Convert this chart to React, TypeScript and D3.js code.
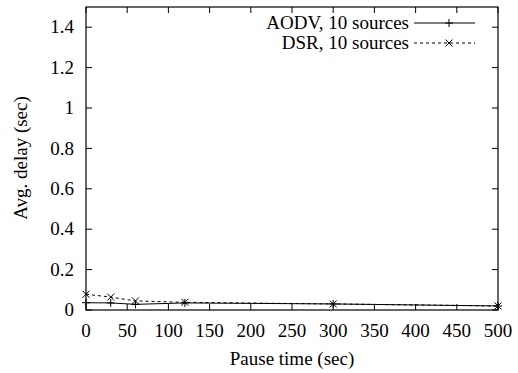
import React from "react";
import * as d3 from "d3";

const pauseTimes = [0, 30, 60, 120, 300, 500];
const aodvDelay = [0.036, 0.035, 0.028, 0.035, 0.03, 0.02];
const dsrDelay = [0.078, 0.064, 0.045, 0.038, 0.03, 0.02];
const xTicks = [0, 50, 100, 150, 200, 250, 300, 350, 400, 450, 500];
const yTicks = [0, 0.2, 0.4, 0.6, 0.8, 1, 1.2, 1.4];
const seriesNames = ["AODV, 10 sources", "DSR, 10 sources"];

const W = 518, H = 373;
const L = 86, R = 498, T = 7, B = 310;
const FONT = "Liberation Serif";

export default function App() {
  const x = d3.scaleLinear().domain([0, 500]).range([L, R]);
  const y = d3.scaleLinear().domain([0, 1.5]).range([B, T]);
  const line = d3.line<number>().x((_, i) => x(pauseTimes[i])).y((d) => y(d));
  const tl = 6;
  const plus = (cx: number, cy: number, k: string) => (
    <g key={k} stroke="#000" strokeWidth={1}>
      <line x1={cx - 4} x2={cx + 4} y1={cy} y2={cy} />
      <line x1={cx} x2={cx} y1={cy - 4} y2={cy + 4} />
    </g>
  );
  const cross = (cx: number, cy: number, k: string) => (
    <g key={k} stroke="#000" strokeWidth={1}>
      <line x1={cx - 3.5} x2={cx + 3.5} y1={cy - 3.5} y2={cy + 3.5} />
      <line x1={cx - 3.5} x2={cx + 3.5} y1={cy + 3.5} y2={cy - 3.5} />
    </g>
  );
  return (
    <svg width={W} height={H} style={{ position: "absolute", left: 0, top: 0, background: "#fff", fontFamily: FONT, fontSize: 19 }}>
      <rect x={0} y={0} width={W} height={H} fill="#fff" />
      {xTicks.map((t) => (
        <g key={"x" + t} stroke="#000">
          <line x1={x(t)} x2={x(t)} y1={B} y2={B - tl} />
          <line x1={x(t)} x2={x(t)} y1={T} y2={T + tl} />
        </g>
      ))}
      {yTicks.map((t) => (
        <g key={"y" + t} stroke="#000">
          <line x1={L} x2={L + tl} y1={y(t)} y2={y(t)} />
          <line x1={R} x2={R - tl} y1={y(t)} y2={y(t)} />
        </g>
      ))}
      {xTicks.map((t) => (
        <text key={"xl" + t} x={x(t)} y={337} textAnchor="middle">{t}</text>
      ))}
      {yTicks.map((t) => (
        <text key={"yl" + t} x={74} y={y(t)} dy="0.33em" textAnchor="end">{String(t)}</text>
      ))}
      <text x={(L + R) / 2} y={365} textAnchor="middle">Pause time (sec)</text>
      <text transform={`translate(27,158) rotate(-90)`} textAnchor="middle">Avg. delay (sec)</text>
      <path d={line(aodvDelay) || ""} fill="none" stroke="#000" strokeWidth={1} />
      {aodvDelay.map((v, i) => plus(x(pauseTimes[i]), y(v), "a" + i))}
      <path d={line(dsrDelay) || ""} fill="none" stroke="#000" strokeWidth={1} strokeDasharray="3,3" />
      {dsrDelay.map((v, i) => cross(x(pauseTimes[i]), y(v), "d" + i))}
      <text x={409} y={23} dy="0.33em" textAnchor="end">{seriesNames[0]}</text>
      <line x1={414} x2={475} y1={23} y2={23} stroke="#000" />
      {plus(449, 23, "la")}
      <text x={409} y={43} dy="0.33em" textAnchor="end">{seriesNames[1]}</text>
      <line x1={414} x2={475} y1={43} y2={43} stroke="#000" strokeDasharray="3,3" />
      {cross(449, 43, "ld")}
      <rect x={L} y={T} width={R - L} height={B - T} fill="none" stroke="#000" strokeWidth={1.2} />
    </svg>
  );
}
